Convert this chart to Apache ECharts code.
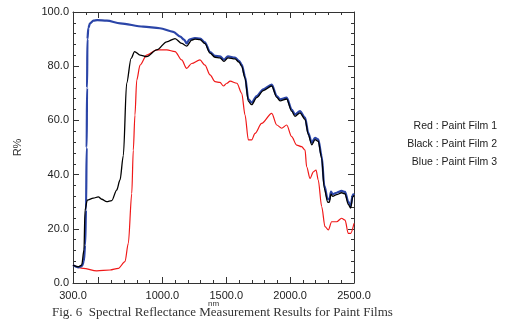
<!DOCTYPE html>
<html>
<head>
<meta charset="utf-8">
<script src="https://cdn.jsdelivr.net/npm/echarts@6/dist/echarts.min.js"></script>
<style>html,body{margin:0;padding:0;background:#fff}#c{width:508px;height:326px}</style>
</head>
<body>
<div id="c"></div>
<script>
// Wavelength (nm) and reflectance (R%)
var redNm  = [300,380,486,590,655,707,733,760,772,785,799,825,877,955,1034,1099,1151,1190,1229,1294,1333,1373,1412,1451,1478,1504,1530,1583,1621,1647,1673,1699,1725,1777,1856,1895,1934,1973,2012,2051,2090,2117,2129,2156,2182,2203,2220,2247,2273,2299,2325,2364,2403,2430,2455,2474,2500];
var redR   = [6.6,5.4,4.5,4.8,5.4,7.9,14.6,33,49,62,74.9,80.4,84.1,86,86,85.4,82.3,79.2,81,82.3,80.4,76.8,74.3,74,72.7,73.7,74.5,73.7,70,62,52.8,52.8,55.2,58.9,62.6,58.3,57.1,58.3,54,50.9,50.3,49,42.9,38.6,41,41.7,38,28.2,20.8,19.6,22.6,22.6,23.9,23.2,18.3,18.3,22];

var blackNm = [300,341,368,386,394,412,459,498,525,564,603,642,668,694,720,755,782,825,877,955,1034,1099,1151,1190,1229,1255,1295,1333,1373,1412,1451,1482,1513,1568,1600,1621,1647,1673,1699,1738,1790,1856,1895,1921,1973,2012,2038,2077,2117,2142,2169,2195,2220,2247,2267,2294,2307,2320,2333,2364,2403,2430,2455,2474,2490,2500];
var blackR  = [6.6,6,6.6,12.2,26.9,30.6,31.3,31.8,30.9,30,30.4,34.3,38,47,73.7,82.9,85.4,84.1,83.5,86,89,90.2,88.4,87.4,89.6,90,89.8,88.3,84.8,83.3,83.1,81.8,83.1,82.7,81.5,80,75.5,67,65.8,68.4,71,72.7,68.5,67.2,67.9,63.4,61.5,62.8,60.4,54.8,51,52.9,52.3,46,35,29.8,29.8,32.8,32,32.6,33.3,32.9,29,27.6,31.8,32.3];

var blueNm = [300,340,370,385,395,402,407,410,413,420,433,460,490,565,670,850,980,1085,1140,1170,1190,1210,1255,1295,1333,1373,1412,1451,1482,1513,1568,1600,1621,1647,1673,1699,1738,1790,1856,1895,1921,1973,2012,2038,2077,2117,2142,2169,2195,2220,2247,2267,2294,2307,2320,2333,2364,2403,2430,2455,2474,2490,2500];
var blueR  = [6.6,5.8,6.2,8,14,27,50,72,90,94,95.8,96.8,97,96.8,95.8,94.6,94,92.7,90.9,89.8,88.4,89.8,90.4,90.2,88.8,85.2,83.8,83.6,82.4,83.6,83.2,82,80.6,76.2,67.8,66.6,69,71.5,73.2,69,67.8,68.4,64,62.2,63.4,61,55.4,51.8,53.6,53,46.8,36,31,30.8,33.7,32.8,33.3,34,33.6,30,28.4,32.5,33];

var xLabelValues = [300,1000,1500,2000,2500];
var xMajorTicks = [500,1000,1500,2000,2500];
var legendLines = ['Red : Paint Film 1','Black : Paint Film 2','Blue : Paint Film 3'];
var caption = 'Fig. 6  Spectral Reflectance Measurement Results for Paint Films';

function pairs(xs, ys){ return xs.map(function(x,i){ return [x, ys[i]]; }); }

var axisColor = '#333';
var font = 'Liberation Sans, Arial, sans-serif';
var chart = echarts.init(document.getElementById('c'));

function xAxisDef(pos, withLabels, major){
  return {
    type:'value', position:pos, min:300, max:2500, interval:100,
    axisLine:{show:!major, lineStyle:{color:axisColor,width:1}},
    axisTick: major ? {show:true, inside:true, length:6, customValues:xMajorTicks, lineStyle:{color:axisColor}}
                    : {show:true, inside:true, length:3, lineStyle:{color:axisColor}},
    axisLabel: withLabels ? {show:true, customValues:xLabelValues, margin:7, color:'#222', fontSize:11, fontFamily:font,
                 formatter:function(v){return v.toFixed(1);}} : {show:false},
    splitLine:{show:false},
    name: (withLabels ? 'nm' : ''), nameLocation:'middle', nameGap:17, nameMoveOverlap:false,
    nameTextStyle:{fontSize:8, color:'#333', fontFamily:font}
  };
}
function yAxisDef(pos, withLabels){
  return {
    type:'value', position:pos, min:0, max:100, interval:20,
    axisLine:{show:true, lineStyle:{color:axisColor,width:1}},
    axisTick:{show:true, inside:true, length:6, lineStyle:{color:axisColor}},
    minorTick:{show:true, splitNumber:5, length:3, lineStyle:{color:axisColor}},
    axisLabel: withLabels ? {show:true, margin:4, color:'#222', fontSize:11, fontFamily:font,
                 formatter:function(v){return v.toFixed(1);}} : {show:false},
    splitLine:{show:false},
    name: withLabels ? 'R%' : '', nameLocation:'middle', nameGap:50, nameRotate:90, nameMoveOverlap:false,
    nameTextStyle:{fontSize:11, color:'#333', fontFamily:font}
  };
}

var option = {
  animation:false,
  backgroundColor:'#fff',
  grid:{left:73, right:154, top:12, bottom:43, containLabel:false},
  xAxis:[xAxisDef('bottom', true, false), xAxisDef('bottom', false, true), xAxisDef('top', false, false), xAxisDef('top', false, true)],
  yAxis:[yAxisDef('left', true), yAxisDef('right', false)],
  series:[
    {type:'line', name:'Paint Film 1', data:pairs(redNm, redR), showSymbol:false, smooth:0.3, smoothMonotone:'x',
     lineStyle:{color:'#f01818', width:1.2}, z:3},
    {type:'line', name:'Paint Film 3', data:pairs(blueNm, blueR), showSymbol:false, smooth:0.3, smoothMonotone:'x',
     lineStyle:{color:'#2b45a8', width:2.2}, z:4},
    {type:'line', name:'Paint Film 2', data:pairs(blackNm, blackR), showSymbol:false, smooth:0.3, smoothMonotone:'x',
     lineStyle:{color:'#000', width:1.3}, z:5}
  ],
  graphic:[
    {type:'text', right:11, top:121, style:{text:legendLines[0], fill:'#222', fontSize:10.5, fontFamily:font, textAlign:'right'}},
    {type:'text', right:11, top:139, style:{text:legendLines[1], fill:'#222', fontSize:10.5, fontFamily:font, textAlign:'right'}},
    {type:'text', right:11, top:157, style:{text:legendLines[2], fill:'#222', fontSize:10.5, fontFamily:font, textAlign:'right'}},
    {type:'text', left:52, top:306, style:{text:caption, fill:'#333', fontSize:13, fontFamily:'Liberation Serif, Times New Roman, serif'}}
  ]
};
chart.setOption(option);
</script>
</body>
</html>
